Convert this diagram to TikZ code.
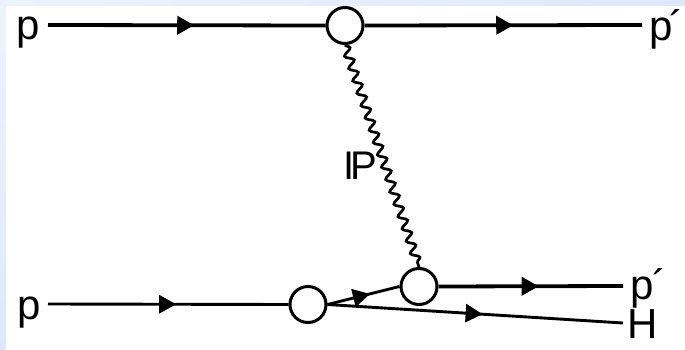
\documentclass[tikz,border=0pt]{standalone}
\usepackage{fontspec}
\setmainfont{Liberation Sans}
\usetikzlibrary{decorations.pathmorphing,decorations.markings,arrows.meta}
\definecolor{bgpale}{HTML}{EDF3FD}
\definecolor{bgblue}{HTML}{DCE9FC}
\tikzset{
  x=1pt,y=-1pt,
  thick line/.style={line width=3.8pt,draw=black},
  thin line/.style={line width=2.9pt,draw=black},
  midarrow/.style={postaction={decorate},decoration={markings,mark=at position #1 with {\arrow{Triangle[length=17pt,width=18pt]}}}},
  blob/.style={circle,draw=black,fill=white,line width=3pt,inner sep=0pt,minimum size=36pt},
  lab/.style={font=\fontsize{42}{42}\selectfont,inner sep=0pt,text=black},
  gluon/.style={draw=black,line width=2.7pt,decorate,decoration={snake,amplitude=4pt,segment length=13pt}}
}
\begin{document}
\begin{tikzpicture}
\useasboundingbox (0,0) rectangle (685,350);
\fill[white] (0,0) rectangle (685,350);
\shade[left color=bgpale,right color=bgblue] (0,0) rectangle (685,6);
\shade[top color=bgpale,bottom color=bgblue] (0,0) rectangle (6,350);
\node[blob] (t) at (345,25.5) {};
\node[blob] (b1) at (308,304.5) {};
\node[blob] (b2) at (419,286.5) {};
\coordinate (pa) at (48,25);
\coordinate (pb) at (642,25);
\coordinate (qa) at (48,304);
\coordinate (qb) at (623,286);
\coordinate (hb) at (623,323);
\node[lab,anchor=base west] (l1) at (16,40) {p};
\node[lab,anchor=base west] (l2) at (649,41) {p\kern-3pt´};
\node[lab,anchor=base west] (l3) at (17.5,319) {p};
\node[lab,anchor=base west] (l4) at (630,299) {p\kern-1pt´};
\node[lab,anchor=base west] (l5) at (627,338) {H};
\node[lab,anchor=base west,font=\fontsize{40}{40}\selectfont] (l6) at (343,179) {I\kern-4pt P};
\draw[thick line,midarrow=0.527] (pa) -- (t.west);
\draw[thick line,midarrow=0.536] (t.east) -- (pb);
\draw[thin line,midarrow=0.533] (qa) -- (b1.west);
\draw[thick line,midarrow=0.543] (b2.east) -- (qb);
\draw[thin line,midarrow=0.59] (b1.east) -- (b2.west);
\draw[thin line,midarrow=0.525] (b1.east) -- (hb);
\draw[gluon] (t.south) -- (b2.north);
\end{tikzpicture}
\end{document}
